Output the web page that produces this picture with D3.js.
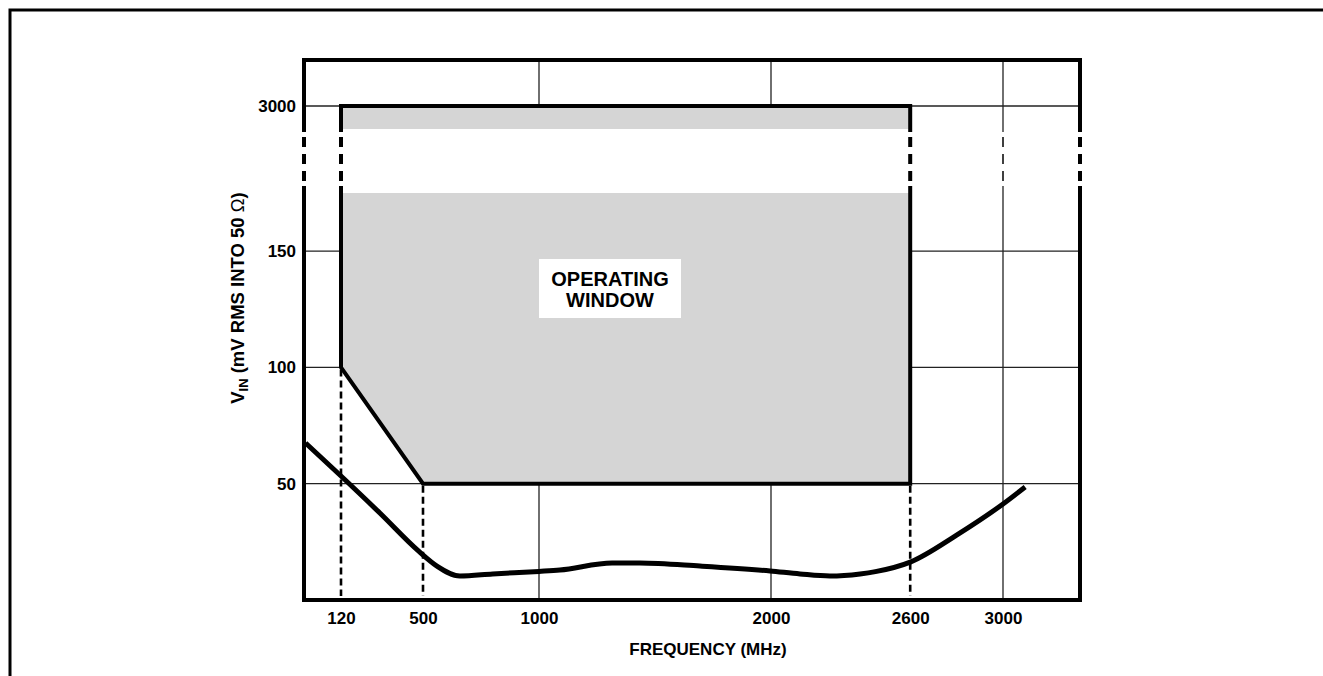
<!DOCTYPE html>
<html>
<head>
<meta charset="utf-8">
<script src="https://cdn.jsdelivr.net/npm/d3@7/dist/d3.min.js"></script>
<style>
  html, body { margin: 0; padding: 0; background: #fff; }
  svg { display: block; font-family: "Liberation Sans", Arial, sans-serif; }
</style>
</head>
<body>
<svg id="chart" width="1323" height="676"></svg>
<script>
// ---------- data ----------
const xTicks = [120, 500, 1000, 2000, 2600, 3000];
const xGrid = [1000, 2000, 3000];
const yTicks = [50, 100, 150, 3000];
const yTickLabels = ["50", "100", "150", "3000"];
// operating window outline (MHz, mV)
const windowFreq = [120, 2600, 2600, 500, 120];
const windowVin  = [3000, 3000, 50, 50, 100];
// drop lines (MHz, start mV)
const dropFreq = [120, 500, 2600];
const dropVin  = [100, 50, 50];
// sensitivity curve
const curveFreq = [5, 120, 300, 480, 560, 659, 800, 1000, 1090, 1315, 1435, 1694, 1996, 2125, 2254, 2384, 2450, 2600, 2800, 3000, 3095];
const curveVin  = [67.5, 53.3, 37.4, 21.0, 14.6, 10.3, 11.2, 12.3, 12.9, 15.9, 15.9, 14.6, 12.5, 11.2, 10.3, 11.2, 12.2, 16.3, 27.9, 41.3, 48.6];
// axis break (mV)
const yBreak = [175, 2900];

// ---------- layout ----------
const L = 304, R = 1080, T = 60, B = 600;
const svg = d3.select("#chart");

const x = d3.scaleLinear().domain([0, 120, 500, 3000, 3330]).range([L, 341, 423, 1003, R]);
const y = d3.scaleLinear().domain([0, yBreak[0], yBreak[1], 3000]).range([B, 193, 129, 106]);

svg.append("rect").attr("width", 1323).attr("height", 676).attr("fill", "#fff");

// page border
svg.append("path").attr("d", "M10,676V10H1323").attr("fill", "none")
  .attr("stroke", "#000").attr("stroke-width", 3);

// gridlines
const grid = svg.append("g").attr("stroke", "#222").attr("stroke-width", 1.3);
grid.selectAll("line.h").data(yTicks).join("line")
  .attr("x1", L).attr("x2", R).attr("y1", d => y(d)).attr("y2", d => y(d));
grid.selectAll("line.v").data(xGrid).join("line")
  .attr("y1", T).attr("y2", B).attr("x1", d => x(d)).attr("x2", d => x(d));

// operating window fill
const win = windowFreq.map((f, i) => [x(f), y(windowVin[i])]);
svg.append("path").attr("d", "M" + win.join("L") + "Z")
  .attr("fill", "#d5d5d5").attr("stroke", "none");
// white gap inside window (break)
svg.append("rect")
  .attr("x", x(120)).attr("width", x(2600) - x(120))
  .attr("y", y(yBreak[1])).attr("height", y(yBreak[0]) - y(yBreak[1]))
  .attr("fill", "#fff");
svg.append("path").attr("d", "M" + win.join("L") + "Z")
  .attr("fill", "none").attr("stroke", "#000").attr("stroke-width", 4)
  .attr("stroke-linejoin", "miter");

// drop lines
svg.selectAll("line.drop").data(dropFreq).join("line")
  .attr("x1", d => x(d)).attr("x2", d => x(d))
  .attr("y1", (d, i) => y(dropVin[i]) + 2).attr("y2", B - 4)
  .attr("stroke", "#000").attr("stroke-width", 2.6).attr("stroke-dasharray", "7,4");

// frame
svg.append("rect").attr("x", L).attr("y", T).attr("width", R - L).attr("height", B - T)
  .attr("fill", "none").attr("stroke", "#000").attr("stroke-width", 4);

// axis break zone
const bz1 = y(yBreak[1]) + 3, bz2 = y(yBreak[0]) - 7;
svg.append("rect").attr("x", L - 4).attr("width", R - L + 8)
  .attr("y", bz1).attr("height", bz2 - bz1).attr("fill", "#fff");
const breakLines = [
  { f: 0, w: 4, px: L }, { f: 120, w: 4 }, { f: 2600, w: 4 }, { f: 3000, w: 1.5 }, { f: 3330, w: 4, px: R }
];
svg.selectAll("line.brk").data(breakLines).join("line")
  .attr("x1", d => d.px !== undefined ? d.px : x(d.f))
  .attr("x2", d => d.px !== undefined ? d.px : x(d.f))
  .attr("y1", bz1 + 5).attr("y2", bz2)
  .attr("stroke", "#000").attr("stroke-width", d => d.w).attr("stroke-dasharray", "10,7");

// sensitivity curve
const line = d3.line().x(d => x(d[0])).y(d => y(d[1])).curve(d3.curveMonotoneX);
svg.append("path").datum(curveFreq.map((f, i) => [f, curveVin[i]]))
  .attr("d", line).attr("fill", "none").attr("stroke", "#000")
  .attr("stroke-width", 5).attr("stroke-linecap", "butt").attr("stroke-linejoin", "round");

// label
const lab = svg.append("g");
lab.append("rect").attr("x", 539).attr("y", 259).attr("width", 142).attr("height", 59).attr("fill", "#fff");
lab.append("text").attr("x", 610).attr("y", 286).attr("text-anchor", "middle")
  .attr("font-size", 20).attr("font-weight", "bold").text("OPERATING");
lab.append("text").attr("x", 610).attr("y", 307).attr("text-anchor", "middle")
  .attr("font-size", 20).attr("font-weight", "bold").text("WINDOW");

// axes (labels)
const xAxis = svg.append("g").attr("transform", `translate(0,${B})`)
  .call(d3.axisBottom(x).tickValues(xTicks).tickSize(0).tickPadding(12).tickFormat(d3.format("d")));
xAxis.select(".domain").remove();
xAxis.selectAll("text").attr("font-size", 17).attr("font-weight", "bold")
  .attr("font-family", "Liberation Sans, Arial, sans-serif").attr("fill", "#000");

const yAxis = svg.append("g").attr("transform", `translate(${L},0)`)
  .call(d3.axisLeft(y).tickValues(yTicks).tickSize(0).tickPadding(8)
    .tickFormat((d, i) => yTickLabels[i]));
yAxis.select(".domain").remove();
yAxis.selectAll("text").attr("font-size", 17).attr("font-weight", "bold")
  .attr("font-family", "Liberation Sans, Arial, sans-serif").attr("fill", "#000");

// titles
svg.append("text").attr("x", 708).attr("y", 655).attr("text-anchor", "middle")
  .attr("font-size", 17).attr("font-weight", "bold").text("FREQUENCY (MHz)");

const yt = svg.append("text").attr("transform", "translate(244,298) rotate(-90)")
  .attr("text-anchor", "middle").attr("font-size", 18.5).attr("font-weight", "bold");
yt.append("tspan").text("V");
yt.append("tspan").attr("font-size", 13).attr("dy", 4).text("IN");
yt.append("tspan").attr("dy", -4).text(" (mV RMS INTO 50 ");
yt.append("tspan").attr("font-weight", "normal").text("Ω");
yt.append("tspan").text(")");
</script>
</body>
</html>
